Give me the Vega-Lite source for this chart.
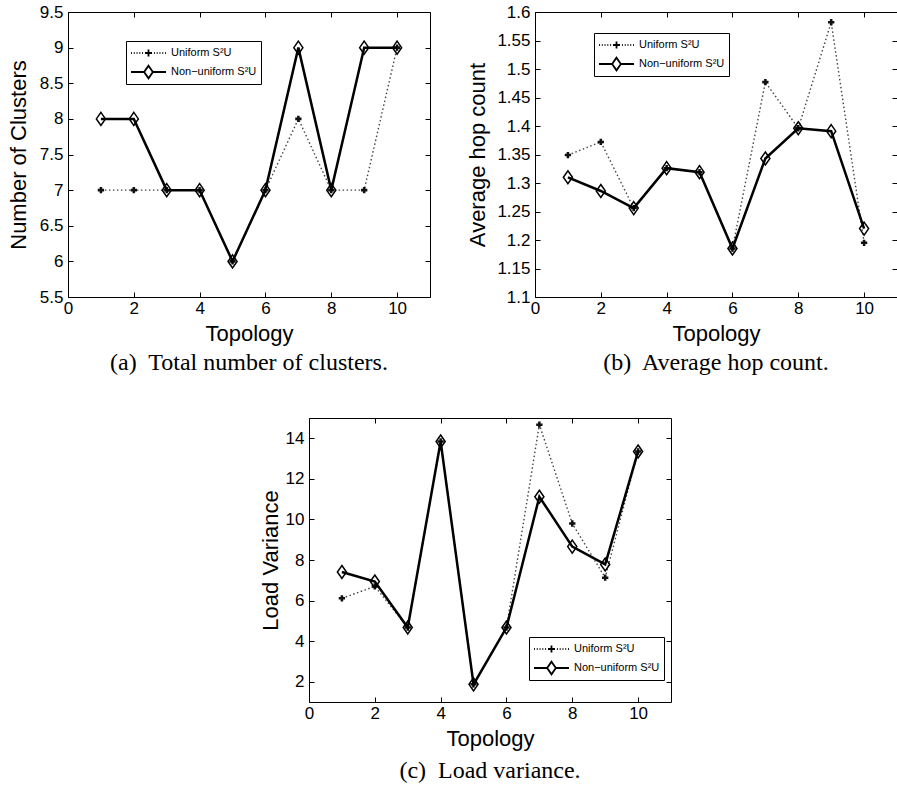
{
  "$schema": "https://vega.github.io/schema/vega-lite/v6.json",
  "background": "white",
  "padding": {"left": 6, "top": 2, "right": 0, "bottom": 5},
  "datasets": {
    "clusters": [
      {"topology": 1, "series": "Uniform S²U", "value": 7},
      {"topology": 2, "series": "Uniform S²U", "value": 7},
      {"topology": 3, "series": "Uniform S²U", "value": 7},
      {"topology": 4, "series": "Uniform S²U", "value": 7},
      {"topology": 5, "series": "Uniform S²U", "value": 6},
      {"topology": 6, "series": "Uniform S²U", "value": 7},
      {"topology": 7, "series": "Uniform S²U", "value": 8},
      {"topology": 8, "series": "Uniform S²U", "value": 7},
      {"topology": 9, "series": "Uniform S²U", "value": 7},
      {"topology": 10, "series": "Uniform S²U", "value": 9},
      {"topology": 1, "series": "Non−uniform S²U", "value": 8},
      {"topology": 2, "series": "Non−uniform S²U", "value": 8},
      {"topology": 3, "series": "Non−uniform S²U", "value": 7},
      {"topology": 4, "series": "Non−uniform S²U", "value": 7},
      {"topology": 5, "series": "Non−uniform S²U", "value": 6},
      {"topology": 6, "series": "Non−uniform S²U", "value": 7},
      {"topology": 7, "series": "Non−uniform S²U", "value": 9},
      {"topology": 8, "series": "Non−uniform S²U", "value": 7},
      {"topology": 9, "series": "Non−uniform S²U", "value": 9},
      {"topology": 10, "series": "Non−uniform S²U", "value": 9}
    ],
    "hops": [
      {"topology": 1, "series": "Uniform S²U", "value": 1.349},
      {"topology": 2, "series": "Uniform S²U", "value": 1.372},
      {"topology": 3, "series": "Uniform S²U", "value": 1.256},
      {"topology": 4, "series": "Uniform S²U", "value": 1.326},
      {"topology": 5, "series": "Uniform S²U", "value": 1.319},
      {"topology": 6, "series": "Uniform S²U", "value": 1.185},
      {"topology": 7, "series": "Uniform S²U", "value": 1.477},
      {"topology": 8, "series": "Uniform S²U", "value": 1.396},
      {"topology": 9, "series": "Uniform S²U", "value": 1.582},
      {"topology": 10, "series": "Uniform S²U", "value": 1.195},
      {"topology": 1, "series": "Non−uniform S²U", "value": 1.31},
      {"topology": 2, "series": "Non−uniform S²U", "value": 1.286},
      {"topology": 3, "series": "Non−uniform S²U", "value": 1.256},
      {"topology": 4, "series": "Non−uniform S²U", "value": 1.326},
      {"topology": 5, "series": "Non−uniform S²U", "value": 1.319},
      {"topology": 6, "series": "Non−uniform S²U", "value": 1.185},
      {"topology": 7, "series": "Non−uniform S²U", "value": 1.343},
      {"topology": 8, "series": "Non−uniform S²U", "value": 1.396},
      {"topology": 9, "series": "Non−uniform S²U", "value": 1.391},
      {"topology": 10, "series": "Non−uniform S²U", "value": 1.22}
    ],
    "variance": [
      {"topology": 1, "series": "Uniform S²U", "value": 6.11},
      {"topology": 2, "series": "Uniform S²U", "value": 6.7},
      {"topology": 3, "series": "Uniform S²U", "value": 4.67},
      {"topology": 4, "series": "Uniform S²U", "value": 13.84},
      {"topology": 5, "series": "Uniform S²U", "value": 1.87},
      {"topology": 6, "series": "Uniform S²U", "value": 4.67},
      {"topology": 7, "series": "Uniform S²U", "value": 14.67},
      {"topology": 8, "series": "Uniform S²U", "value": 9.8},
      {"topology": 9, "series": "Uniform S²U", "value": 7.13},
      {"topology": 10, "series": "Uniform S²U", "value": 13.35},
      {"topology": 1, "series": "Non−uniform S²U", "value": 7.41},
      {"topology": 2, "series": "Non−uniform S²U", "value": 6.94},
      {"topology": 3, "series": "Non−uniform S²U", "value": 4.67},
      {"topology": 4, "series": "Non−uniform S²U", "value": 13.84},
      {"topology": 5, "series": "Non−uniform S²U", "value": 1.87},
      {"topology": 6, "series": "Non−uniform S²U", "value": 4.67},
      {"topology": 7, "series": "Non−uniform S²U", "value": 11.12},
      {"topology": 8, "series": "Non−uniform S²U", "value": 8.66},
      {"topology": 9, "series": "Non−uniform S²U", "value": 7.78},
      {"topology": 10, "series": "Non−uniform S²U", "value": 13.35}
    ]
  },
  "bounds": "full",
  "spacing": 41,
  "resolve": {"scale": {"shape": "independent"}, "legend": {"shape": "independent"}},
  "vconcat": [
    {
      "bounds": "flush",
      "spacing": 105,
      "resolve": {"scale": {"shape": "independent"}, "legend": {"shape": "independent"}},
      "hconcat": [
        {
          "width": 362, "height": 285,
          "data": {"name": "clusters"},
          "title": {"text": "(a)\u00a0 Total number of clusters.", "offset": 7},
          "layer": [
            {
              "encoding": {
                "x": {"field": "topology", "type": "quantitative", "scale": {"domain": [0, 11], "nice": false, "zero": false},
                      "axis": {"values": [0, 2, 4, 6, 8, 10], "title": "Topology"}},
                "y": {"field": "value", "type": "quantitative", "scale": {"domain": [5.5, 9.5], "nice": false, "zero": false},
                      "axis": {"values": [5.5, 6, 6.5, 7, 7.5, 8, 8.5, 9, 9.5], "format": "~g", "title": "Number of Clusters", "titleX": -43, "titleBaseline": "alphabetic"}}
              },
              "layer": [
                {
                  "transform": [{"filter": "datum.series === 'Uniform S²U'"}],
                  "mark": {"type": "line", "color": "#444", "strokeWidth": 1.4, "strokeDash": [1.5, 2.5]}
                },
                {
                  "transform": [{"filter": "datum.series === 'Uniform S²U'"}],
                  "mark": {"type": "point", "shape": "cross", "filled": true, "color": "#111", "size": 40, "opacity": 1}
                },
                {
                  "transform": [{"filter": "datum.series !== 'Uniform S²U'"}],
                  "mark": {"type": "line", "color": "black", "strokeWidth": 2.5}
                },
                {
                  "mark": {"type": "point", "opacity": 0, "filled": false, "color": "black", "strokeWidth": 1.8},
                  "encoding": {
                    "shape": {"field": "series", "type": "nominal",
                      "scale": {"domain": ["Uniform S²U", "Non−uniform S²U"],
                                "range": ["M-1,0h0.05M-0.84,0h0.05M-0.68,0h0.05M-0.52,0h0.05M-0.36,0h0.05M-0.2,0H0.2M0,-0.2V0.2M0.31,0h0.05M0.47,0h0.05M0.63,0h0.05M0.79,0h0.05M0.95,0h0.05", "M-1,0H-0.25M0.25,0H1M0,-0.36L0.25,0L0,0.36L-0.25,0Z"]},
                      "legend": {"title": null, "orient": "none", "legendX": 58, "legendY": 29}
                    }
                  }
                }
              ]
            },
            {
              "transform": [{"filter": "datum.series !== 'Uniform S²U'"}],
              "mark": {"type": "point", "shape": "M0,-1L0.7,0L0,1L-0.7,0Z", "filled": false, "color": "black", "strokeWidth": 1.5, "size": 169, "opacity": 1},
              "encoding": {
                "x": {"field": "topology", "type": "quantitative", "scale": {"domain": [0, 11], "nice": false, "zero": false},
                      "axis": {"orient": "top", "labels": false, "title": null, "values": [0, 2, 4, 6, 8, 10]}},
                "y": {"field": "value", "type": "quantitative", "scale": {"domain": [5.5, 9.5], "nice": false, "zero": false},
                      "axis": {"orient": "right", "labels": false, "title": null, "values": [5.5, 6, 6.5, 7, 7.5, 8, 8.5, 9, 9.5]}}
              }
            }
          ],
          "resolve": {"axis": {"x": "independent", "y": "independent"}}
        },
        {
          "width": 362, "height": 285,
          "data": {"name": "hops"},
          "title": {"text": "(b)\u00a0 Average hop count.", "offset": 7},
          "layer": [
            {
              "encoding": {
                "x": {"field": "topology", "type": "quantitative", "scale": {"domain": [0, 11], "nice": false, "zero": false},
                      "axis": {"values": [0, 2, 4, 6, 8, 10], "title": "Topology"}},
                "y": {"field": "value", "type": "quantitative", "scale": {"domain": [1.1, 1.6], "nice": false, "zero": false},
                      "axis": {"values": [1.1, 1.15, 1.2, 1.25, 1.3, 1.35, 1.4, 1.45, 1.5, 1.55, 1.6], "format": "~g", "title": "Average hop count", "titleX": -51, "titleBaseline": "alphabetic"}}
              },
              "layer": [
                {
                  "transform": [{"filter": "datum.series === 'Uniform S²U'"}],
                  "mark": {"type": "line", "color": "#444", "strokeWidth": 1.4, "strokeDash": [1.5, 2.5]}
                },
                {
                  "transform": [{"filter": "datum.series === 'Uniform S²U'"}],
                  "mark": {"type": "point", "shape": "cross", "filled": true, "color": "#111", "size": 40, "opacity": 1}
                },
                {
                  "transform": [{"filter": "datum.series !== 'Uniform S²U'"}],
                  "mark": {"type": "line", "color": "black", "strokeWidth": 2.5}
                },
                {
                  "mark": {"type": "point", "opacity": 0, "filled": false, "color": "black", "strokeWidth": 1.8},
                  "encoding": {
                    "shape": {"field": "series", "type": "nominal",
                      "scale": {"domain": ["Uniform S²U", "Non−uniform S²U"],
                                "range": ["M-1,0h0.05M-0.84,0h0.05M-0.68,0h0.05M-0.52,0h0.05M-0.36,0h0.05M-0.2,0H0.2M0,-0.2V0.2M0.31,0h0.05M0.47,0h0.05M0.63,0h0.05M0.79,0h0.05M0.95,0h0.05", "M-1,0H-0.25M0.25,0H1M0,-0.36L0.25,0L0,0.36L-0.25,0Z"]},
                      "legend": {"title": null, "orient": "none", "legendX": 59, "legendY": 21}
                    }
                  }
                }
              ]
            },
            {
              "transform": [{"filter": "datum.series !== 'Uniform S²U'"}],
              "mark": {"type": "point", "shape": "M0,-1L0.7,0L0,1L-0.7,0Z", "filled": false, "color": "black", "strokeWidth": 1.5, "size": 169, "opacity": 1},
              "encoding": {
                "x": {"field": "topology", "type": "quantitative", "scale": {"domain": [0, 11], "nice": false, "zero": false},
                      "axis": {"orient": "top", "labels": false, "title": null, "values": [0, 2, 4, 6, 8, 10]}},
                "y": {"field": "value", "type": "quantitative", "scale": {"domain": [1.1, 1.6], "nice": false, "zero": false},
                      "axis": {"orient": "right", "labels": false, "title": null, "values": [1.1, 1.15, 1.2, 1.25, 1.3, 1.35, 1.4, 1.45, 1.5, 1.55, 1.6]}}
              }
            }
          ],
          "resolve": {"axis": {"x": "independent", "y": "independent"}}
        }
      ]
    },
    {
      "bounds": "flush",
      "spacing": 0,
      "resolve": {"scale": {"shape": "independent"}, "legend": {"shape": "independent"}},
      "hconcat": [
        {
          "width": 241, "height": 10,
          "data": {"values": [{}]},
          "mark": {"type": "point", "opacity": 0},
          "encoding": {},
          "view": {"stroke": null}
        },
        {
          "width": 362, "height": 284,
          "data": {"name": "variance"},
          "title": {"text": "(c)\u00a0 Load variance.", "offset": 10},
          "layer": [
            {
              "encoding": {
                "x": {"field": "topology", "type": "quantitative", "scale": {"domain": [0, 11], "nice": false, "zero": false},
                      "axis": {"values": [0, 2, 4, 6, 8, 10], "title": "Topology"}},
                "y": {"field": "value", "type": "quantitative", "scale": {"domain": [1, 15], "nice": false, "zero": false},
                      "axis": {"values": [2, 4, 6, 8, 10, 12, 14], "format": "~g", "title": "Load Variance", "titleX": -32, "titleBaseline": "alphabetic"}}
              },
              "layer": [
                {
                  "transform": [{"filter": "datum.series === 'Uniform S²U'"}],
                  "mark": {"type": "line", "color": "#444", "strokeWidth": 1.4, "strokeDash": [1.5, 2.5]}
                },
                {
                  "transform": [{"filter": "datum.series === 'Uniform S²U'"}],
                  "mark": {"type": "point", "shape": "cross", "filled": true, "color": "#111", "size": 40, "opacity": 1}
                },
                {
                  "transform": [{"filter": "datum.series !== 'Uniform S²U'"}],
                  "mark": {"type": "line", "color": "black", "strokeWidth": 2.5}
                },
                {
                  "mark": {"type": "point", "opacity": 0, "filled": false, "color": "black", "strokeWidth": 1.8},
                  "encoding": {
                    "shape": {"field": "series", "type": "nominal",
                      "scale": {"domain": ["Uniform S²U", "Non−uniform S²U"],
                                "range": ["M-1,0h0.05M-0.84,0h0.05M-0.68,0h0.05M-0.52,0h0.05M-0.36,0h0.05M-0.2,0H0.2M0,-0.2V0.2M0.31,0h0.05M0.47,0h0.05M0.63,0h0.05M0.79,0h0.05M0.95,0h0.05", "M-1,0H-0.25M0.25,0H1M0,-0.36L0.25,0L0,0.36L-0.25,0Z"]},
                      "legend": {"title": null, "orient": "none", "legendX": 220, "legendY": 219}
                    }
                  }
                }
              ]
            },
            {
              "transform": [{"filter": "datum.series !== 'Uniform S²U'"}],
              "mark": {"type": "point", "shape": "M0,-1L0.7,0L0,1L-0.7,0Z", "filled": false, "color": "black", "strokeWidth": 1.5, "size": 169, "opacity": 1},
              "encoding": {
                "x": {"field": "topology", "type": "quantitative", "scale": {"domain": [0, 11], "nice": false, "zero": false},
                      "axis": {"orient": "top", "labels": false, "title": null, "values": [0, 2, 4, 6, 8, 10]}},
                "y": {"field": "value", "type": "quantitative", "scale": {"domain": [1, 15], "nice": false, "zero": false},
                      "axis": {"orient": "right", "labels": false, "title": null, "values": [2, 4, 6, 8, 10, 12, 14]}}
              }
            }
          ],
          "resolve": {"axis": {"x": "independent", "y": "independent"}}
        }
      ]
    }
  ],
  "config": {
    "view": {"stroke": "black", "strokeWidth": 1},
    "axis": {
      "domain": false, "grid": false, "tickSize": -5, "tickColor": "black", "tickWidth": 1,
      "labelColor": "black", "titleColor": "black", "labelFont": "Liberation Sans", "labelFontSize": 17,
      "titleFont": "Liberation Sans", "titleFontSize": 22, "titleFontWeight": "normal",
      "labelFlush": false, "labelOverlap": false
    },
    "axisX": {"labelPadding": 8, "titlePadding": 7},
    "axisY": {"labelPadding": 10},
    "legend": {
      "labelFont": "Liberation Sans", "labelFontSize": 11, "labelColor": "black",
      "strokeColor": "black", "fillColor": "white", "padding": 4, "cornerRadius": 0,
      "symbolSize": 1225, "symbolStrokeWidth": 1.8, "symbolStrokeColor": "black", "symbolFillColor": "transparent",
      "symbolOpacity": 1, "labelOffset": 4, "rowPadding": 3, "clipHeight": 16
    },
    "title": {"font": "Liberation Serif", "fontSize": 24, "fontWeight": "normal", "color": "black", "orient": "bottom", "anchor": "middle", "frame": "group"}
  }
}
